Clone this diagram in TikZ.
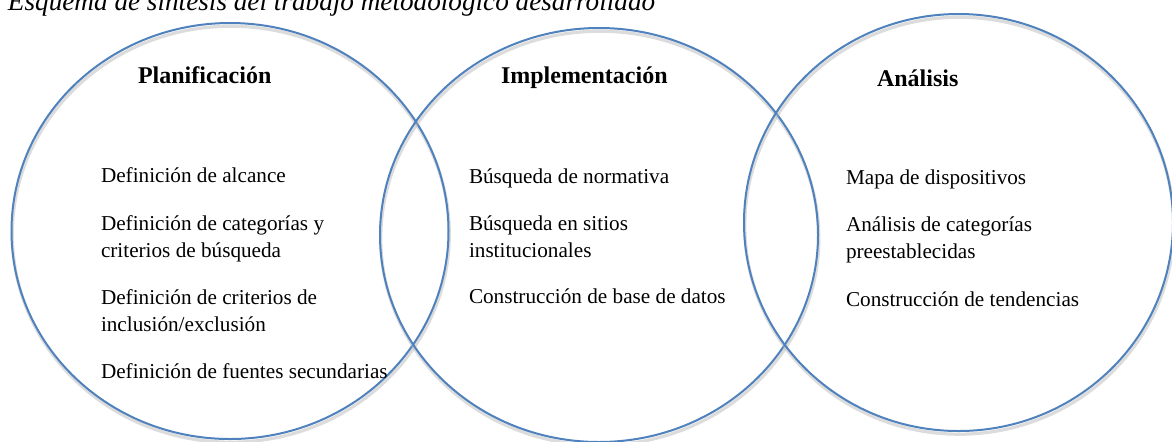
\documentclass[tikz,border=0pt]{standalone}
\usepackage{fontspec}
\setmainfont{Liberation Serif}
\usetikzlibrary{positioning,shapes,shadows}
\definecolor{ringblue}{RGB}{79,129,189}

\begin{document}
\begin{tikzpicture}[x=0.5pt,y=-0.5pt]
                    \tikzstyle{every node}=[inner sep=0,outer sep=0]
                    \tikzstyle{ring}=[ellipse,draw=ringblue,line width=1pt,fill=none,
                        drop shadow={shadow xshift=0.4pt,shadow yshift=-1.6pt,fill=none,draw=black!30,line width=1.6pt,opacity=0.45}]
                    \tikzstyle{heading}=[anchor=base west,font=\fontsize{12}{14}\selectfont\bfseries]
                    \tikzstyle{item}=[anchor=base west,align=left,font=\fontsize{10.6}{13.5}\selectfont]
                    {
                        \useasboundingbox (0,0) rectangle (1172,441);

                        \node[anchor=base west,font=\fontsize{13.6}{16}\selectfont\itshape] (caption) at (8, 10)
                            {Esquema de síntesis del trabajo metodológico desarrollado};

                        % the three rings
                        \node[ring,minimum width=218.5pt,minimum height=208pt] (planc) at (230, 231) {};
                        \node[ring,minimum width=219pt,minimum height=207pt] (implc) at (599, 235) {};
                        \node[ring,minimum width=214.5pt,minimum height=208.5pt] (analc) at (958.5, 222.5) {};

                        \node[heading] (planh) at (138, 83) {Planificación};
                        \node[heading] (implh) at (501, 83) {Implementación};
                        \node[heading] (analh) at (877, 86) {Análisis};

                        % Planificacion (two-line items sit on their last line)
                        \node[item] (plan1) at (101, 182) {Definición de alcance};
                        \node[item] (plan2) at (101, 257) {Definición de categorías y\\criterios de búsqueda};
                        \node[item] (plan3) at (101, 331) {Definición de criterios de\\inclusión/exclusión};
                        \node[item] (plan4) at (101, 378) {Definición de fuentes secundarias};

                        % Implementacion
                        \node[item] (impl1) at (469, 183) {Búsqueda de normativa};
                        \node[item] (impl2) at (469, 257) {Búsqueda en sitios\\institucionales};
                        \node[item] (impl3) at (469, 303) {Construcción de base de datos};

                        % Analisis
                        \node[item] (anal1) at (846, 184) {Mapa de dispositivos};
                        \node[item] (anal2) at (846, 258) {Análisis de categorías\\preestablecidas};
                        \node[item] (anal3) at (846, 306) {Construcción de tendencias};
                    }
                \end{tikzpicture}
\end{document}
